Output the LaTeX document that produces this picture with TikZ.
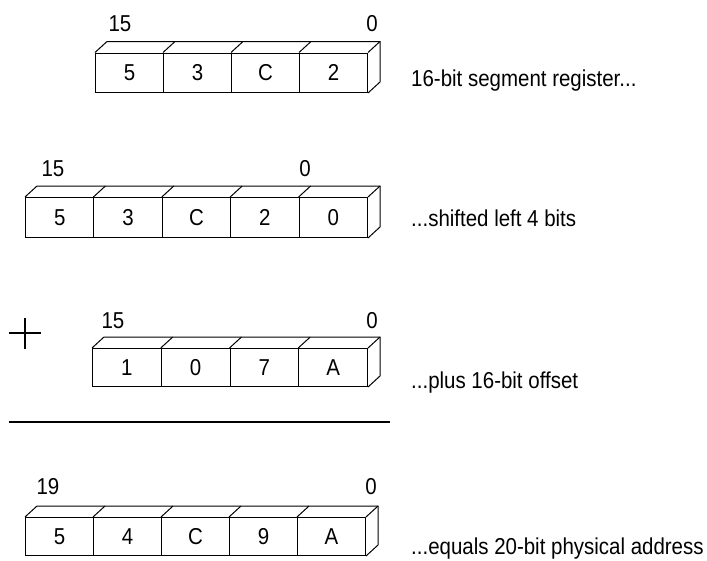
\documentclass[tikz,border=0pt]{standalone}
\usepackage{fontspec}
\setmainfont{Liberation Sans}[FakeStretch=0.89]
\newcommand\labfont{\fontsize{23}{26}\selectfont}
\tikzset{
  edge/.style={line width=1pt, line join=miter},
  cell/.style={draw, line width=1pt, inner sep=0pt, anchor=north west, font=\labfont},
  bitlab/.style={anchor=base, inner sep=0pt, font=\labfont},
  note/.style={anchor=base west, inner sep=0pt, font=\labfont}
}
% #1 prefix, #2 x0, #3 ytop, #4 cell width, #5 height, #6 values, #7 count
\newcommand\regrow[7]{%
  \foreach \v [count=\i] in {#6} {
    \node[cell, minimum width=#4pt, minimum height=#5pt] (#1\i) at ({#2+(\i-1)*#4},#3) {\v};
    \draw[edge] (#1\i.north west) -- ++(12,-11);
  }
  \draw[edge] ([shift={(12,-11)}]#11.north west) -- ([shift={(12,-11)}]#1#7.north east)
     -- ([shift={(12,-11)}]#1#7.south east) -- (#1#7.south east);
  \draw[edge] (#1#7.north east) -- ++(12,-11);
}
\begin{document}
\begin{tikzpicture}[x=1pt,y=-1pt]
\useasboundingbox (0,0) rectangle (707,560);
% row 1
\regrow{a}{95}{52.5}{68}{39.5}{5,3,C,2}{4}
\node[bitlab] (a15) at (120,31) {15};
\node[bitlab] (a0) at (372,31) {0};
\node[note] (na) at (411,86.5) {16-bit segment register...};
% row 2
\regrow{b}{25}{197}{68.4}{40}{5,3,C,2,0}{5}
\node[bitlab] (b15) at (53,176) {15};
\node[bitlab] (b0) at (305,176) {0};
\node[note] (nb) at (411,226) {...shifted left 4 bits};
% row 3
\draw[line width=2.2pt] (9,333) -- (41,333) (25,318) -- (25,349);
\regrow{c}{92}{348}{68.75}{38}{1,0,7,A}{4}
\node[bitlab] (c15) at (113,328) {15};
\node[bitlab] (c0) at (372,328) {0};
\node[note] (nc) at (411,388) {...plus 16-bit offset};
% rule
\draw[line width=2pt] (9,421.5) -- (390,421.5);
% row 4
\regrow{d}{25}{517}{68}{38}{5,4,C,9,A}{5}
\node[bitlab] (d19) at (48,494.5) {19};
\node[bitlab] (d0) at (371,494.5) {0};
\node[note] (nd) at (411,554) {...equals 20-bit physical address};
\end{tikzpicture}
\end{document}
